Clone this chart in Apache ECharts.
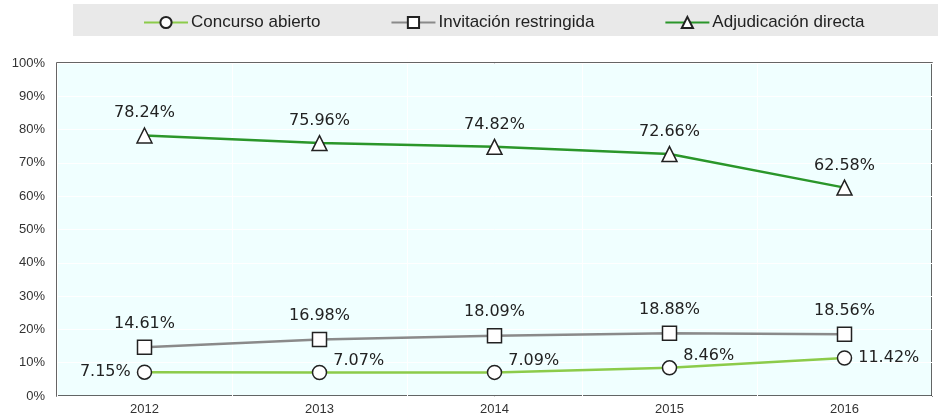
<!DOCTYPE html>
<html>
<head>
<meta charset="utf-8">
<script src="https://cdn.jsdelivr.net/npm/echarts@6/dist/echarts.min.js"></script>
<style>
  html, body { margin: 0; padding: 0; background: #fff; }
  #chart { width: 938px; height: 420px; }
</style>
</head>
<body>
<div id="chart"></div>
<script>
const years = ['2012', '2013', '2014', '2015', '2016'];
const concursoAbierto = [7.15, 7.07, 7.09, 8.46, 11.42];
const invitacionRestringida = [14.61, 16.98, 18.09, 18.88, 18.56];
const adjudicacionDirecta = [78.24, 75.96, 74.82, 72.66, 62.58];
const seriesNames = ['Concurso abierto', 'Invitación restringida', 'Adjudicación directa'];
// where the small-series labels sit, per point
const concursoLabelPos = ['left', 'topRight', 'topRight', 'topRight', 'right'];

const axisFont = '"Liberation Sans", Arial, sans-serif';
const labelFont = { fontFamily: 'DejaVu Sans', fontSize: 16, color: '#222' };

const fmt = (p) => p.value.toFixed(2) + '%';

const concursoData = concursoAbierto.map((v, i) => {
  const pos = concursoLabelPos[i];
  if (pos === 'topRight') {
    return { value: v, label: { position: 'right', offset: [0, -12] } };
  }
  return { value: v, label: { position: pos } };
});

const chart = echarts.init(document.getElementById('chart'));
chart.setOption({
  animation: false,
  graphic: [
    {
      type: 'rect',
      left: 73,
      top: 4,
      shape: { width: 865, height: 32 },
      style: { fill: '#E9E9E9' },
      z: -1,
    },
  ],
  legend: {
    left: 138,
    top: 9,
    itemWidth: 44,
    itemHeight: 14,
    itemGap: 70,
    textStyle: { fontFamily: axisFont, fontSize: 17, color: '#222', padding: [0, 0, 0, -2] },
    data: seriesNames,
  },
  grid: {
    left: 57,
    right: 6,
    top: 63,
    bottom: 24,
    show: true,
    backgroundColor: '#F0FFFF',
    borderColor: '#333',
    borderWidth: 1.5,
  },
  xAxis: {
    type: 'category',
    data: years,
    boundaryGap: true,
    axisLine: { show: false },
    axisTick: { show: false },
    axisLabel: { fontFamily: axisFont, fontSize: 13, color: '#333', margin: 7 },
    splitLine: { show: true, lineStyle: { color: '#FFFFFF', width: 1 } },
  },
  yAxis: {
    type: 'value',
    min: 0,
    max: 100,
    interval: 10,
    axisLine: { show: false },
    axisTick: { show: false },
    axisLabel: { fontFamily: axisFont, fontSize: 13, color: '#333', margin: 12, formatter: '{value}%' },
    splitLine: { show: true, lineStyle: { color: '#FFFFFF', width: 1 } },
  },
  series: [
    {
      name: seriesNames[0],
      type: 'line',
      data: concursoData,
      symbol: 'circle',
      symbolSize: 14,
      itemStyle: { color: '#FFFFFF', borderColor: '#222', borderWidth: 1.5 },
      lineStyle: { color: '#8CCB4A', width: 2.5 },
      label: { show: true, formatter: fmt, distance: 6, ...labelFont },
      z: 4,
    },
    {
      name: seriesNames[1],
      type: 'line',
      data: invitacionRestringida,
      symbol: 'rect',
      symbolSize: 14,
      itemStyle: { color: '#FFFFFF', borderColor: '#222', borderWidth: 1.5 },
      lineStyle: { color: '#8A8A8A', width: 2.5 },
      label: { show: true, position: 'top', formatter: fmt, distance: 8, ...labelFont },
      z: 3,
    },
    {
      name: seriesNames[2],
      type: 'line',
      data: adjudicacionDirecta,
      symbol: 'triangle',
      symbolSize: 15,
      itemStyle: { color: '#FFFFFF', borderColor: '#222', borderWidth: 1.5 },
      lineStyle: { color: '#2A962A', width: 2.5 },
      label: { show: true, position: 'top', formatter: fmt, distance: 6, ...labelFont },
      z: 3,
    },
  ],
});
</script>
</body>
</html>
